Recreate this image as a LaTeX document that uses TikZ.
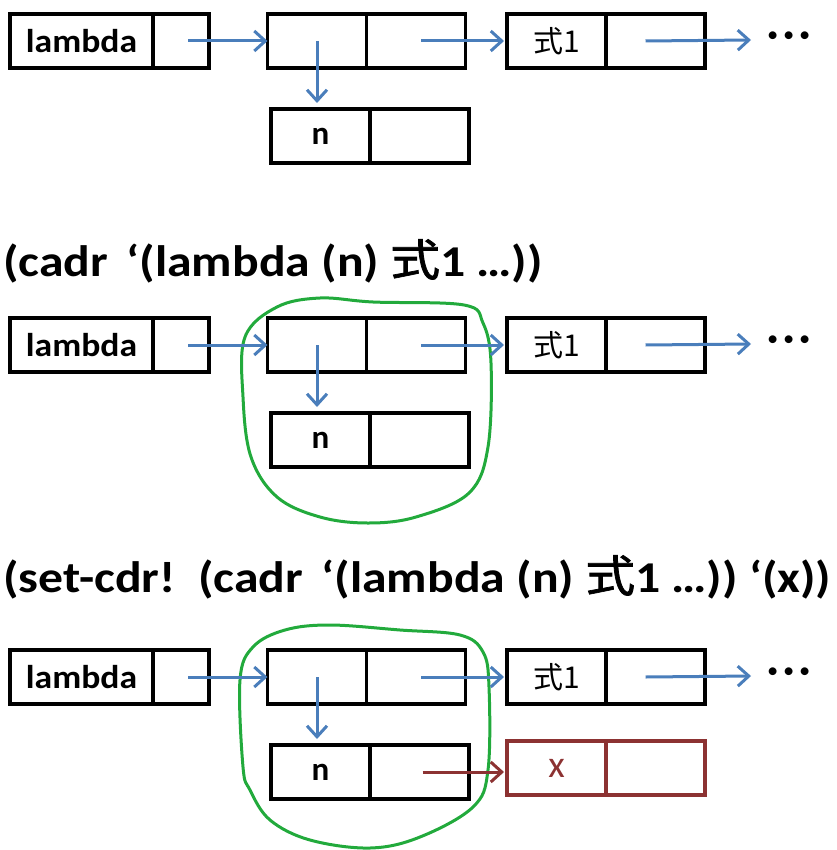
\documentclass[tikz,border=0pt]{standalone}
\usepackage{fontspec}
\usepackage{graphicx}
\setmainfont{Carlito}
\newfontfamily\cjk{Noto Sans CJK SC}
\newfontfamily\cjkheavy[FakeBold=1.6]{Noto Sans CJK SC}
\usetikzlibrary{arrows.meta}
\definecolor{ptr}{RGB}{74,126,187}
\definecolor{hilite}{RGB}{34,170,60}
\definecolor{newcell}{RGB}{140,50,50}

\tikzset{
  cell/.style={draw=black, line width=3.2pt, minimum height=54pt,
    inner sep=0pt, outer sep=0pt, font=\fontsize{33}{36}\selectfont\bfseries},
  halfw/.style={minimum width=99pt},
  pointer/.style={draw=ptr, line width=3pt,
    -{Straight Barb[length=11pt,width=20pt]}},
  newptr/.style={pointer, draw=newcell},
  ring/.style={draw=hilite, line width=3pt},
  title/.style={anchor=base west, inner sep=0pt,
    font=\fontsize{44}{48}\selectfont\bfseries},
  dots/.style={inner sep=0pt, font=\fontsize{42}{46}\selectfont\bfseries}
}
% wide set text, as in the slides
\newcommand\widetext[2][1.13]{\scalebox{#1}[1]{#2}}
\newcommand\shiki{{\cjkheavy\mdseries 式}}

\begin{document}
\begin{tikzpicture}[x=1pt, y=-1pt]
\useasboundingbox (0,0) rectangle (836,850);

% circled sub-list (cadr ...), drawn by hand
\draw[ring] plot[smooth cycle, tension=0.6] coordinates {
  (320,298) (373,302) (464,305) (483,323) (491,363) (488,447) (469,493)
  (416,517) (368,523) (320,517) (277,497) (251,457) (243,397) (245,337)
  (277,307)};
\draw[ring] plot[smooth cycle, tension=0.6] coordinates {
  (330,625) (400,630) (460,635) (483,652) (489,687) (488,770) (473,807)
  (420,837) (370,848) (310,840) (270,820) (250,790) (243,767) (240,680)
  (253,647) (285,630)};

% titles
\node[title] (t2) at (3,276) {\widetext{(cadr\hspace{0.15em} ‘(lambda (n) \shiki1 …))}};
\node[title] (t3) at (3,592) {\widetext{(set-cdr!\hspace{0.15em} (cadr\hspace{0.15em} ‘(lambda (n) \shiki1 …)) ‘(x))}};

% the list (lambda (n) 式1 ...), drawn three times
\foreach \s/\dy in {1/0, 2/304, 3/636} {
  \node[cell, minimum width=143pt] (L\s-a) at (81.5, 41+\dy) {\widetext[1.08]{lambda}};
  \node[cell, minimum width=56pt] (L\s-d) at (181, 41+\dy) {};
  \node[cell, halfw] (C\s-a) at (317, 41+\dy) {};
  \node[cell, halfw] (C\s-d) at (416, 41+\dy) {};
  \node[cell, halfw] (F\s-a) at (556.5, 41+\dy) {\cjk\mdseries\fontsize{30}{32}\selectfont 式1\hspace{12pt}};
  \node[cell, halfw] (F\s-d) at (655.5, 41+\dy) {};
  \node[cell, halfw] (N\s-a) at (320.5, 136+\dy) {n};
  \node[cell, halfw] (N\s-d) at (419.5, 136+\dy) {};
  \coordinate (E\s) at (751, 40+\dy);
  \node[dots] (D\s) at (789, 40+\dy) {·\hspace{0.12em}·\hspace{0.12em}·};

  \draw[pointer] ([xshift=7pt]L\s-d.center) -- (L\s-d.center -| C\s-a.west);
  \draw[pointer] (C\s-a.center) -- ([yshift=6pt]C\s-a.center |- N\s-a.north);
  \draw[pointer] ([xshift=5pt]C\s-d.center) -- ([xshift=-3pt]C\s-d.center -| F\s-a.west);
  \draw[pointer] ([xshift=-10pt]F\s-d.center) -- (E\s);
}

% the new cell (x) after set-cdr!
\node[cell, halfw, draw=newcell, text=newcell, font=\fontsize{38}{40}\selectfont] (X-a) at (556.5, 768) {x};
\node[cell, halfw, draw=newcell] (X-d) at (655.5, 768) {};
\draw[newptr] ([xshift=3pt]N3-d.center) -- ([xshift=-3pt]N3-d.center -| X-a.west);
\end{tikzpicture}
\end{document}
